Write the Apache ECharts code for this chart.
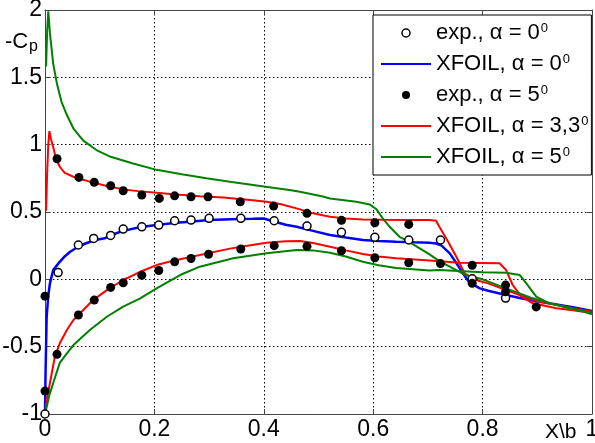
<!DOCTYPE html>
<html>
<head>
<meta charset="utf-8">
<script src="https://cdn.jsdelivr.net/npm/echarts@6/dist/echarts.min.js"></script>
<style>
html, body { margin: 0; padding: 0; background: #fff; }
#chart { width: 595px; height: 443px; }
</style>
</head>
<body>
<div id="chart"></div>
<script>
// legend names (superscript "0" added in formatter)
const names = ["exp., α = 0", "XFOIL, α = 0", "exp., α = 5", "XFOIL, α = 3,3", "XFOIL, α = 5"]

// experiment, alpha = 0 (open circles)
const exp0X = [0, 0.024, 0.061, 0.089, 0.12, 0.143, 0.177, 0.208, 0.237, 0.267, 0.3, 0.358, 0.419, 0.479, 0.542, 0.603, 0.665, 0.723, 0.781, 0.842]
const exp0Y = [-1, 0.05, 0.255, 0.304, 0.326, 0.373, 0.39, 0.403, 0.435, 0.44, 0.453, 0.453, 0.435, 0.396, 0.349, 0.312, 0.292, 0.292, 0.004, -0.139]

// experiment, alpha = 5 (filled dots)
const exp5X = [0, 0, 0.022, 0.061, 0.09, 0.12, 0.143, 0.177, 0.208, 0.237, 0.267, 0.299, 0.358, 0.419, 0.479, 0.542, 0.603, 0.665, 0.723, 0.781, 0.842, 0.898,
	0.022, 0.062, 0.09, 0.12, 0.143, 0.177, 0.209, 0.237, 0.267, 0.298, 0.357, 0.418, 0.479, 0.542, 0.603, 0.665, 0.781, 0.842]
const exp5Y = [-0.83, -0.125, -0.557, -0.265, -0.154, -0.06, -0.025, 0.03, 0.066, 0.13, 0.155, 0.186, 0.225, 0.25, 0.245, 0.212, 0.16, 0.123, 0.117, 0.105, -0.092, -0.205,
	0.895, 0.757, 0.72, 0.695, 0.658, 0.626, 0.601, 0.62, 0.613, 0.613, 0.576, 0.544, 0.49, 0.438, 0.42, 0.408, -0.03, -0.043]

// XFOIL alpha = 0
const xf0X = [0, 0.001, 0.003, 0.006, 0.009, 0.015, 0.021, 0.027, 0.036, 0.046, 0.06, 0.075, 0.09, 0.109, 0.125, 0.143, 0.175, 0.204, 0.24, 0.265, 0.3, 0.326, 0.356, 0.38, 0.4, 0.42, 0.44, 0.46, 0.49, 0.521, 0.55, 0.581, 0.61, 0.642, 0.675, 0.703, 0.715, 0.725, 0.74, 0.752, 0.764, 0.776, 0.795, 0.81, 0.843, 0.87, 0.904, 0.935, 0.965, 1.0]
const xf0Y = [-1, -0.7, -0.28, -0.12, -0.03, 0.069, 0.1, 0.13, 0.17, 0.205, 0.24, 0.268, 0.29, 0.305, 0.335, 0.36, 0.388, 0.403, 0.42, 0.428, 0.44, 0.445, 0.448, 0.45, 0.452, 0.428, 0.405, 0.39, 0.36, 0.329, 0.31, 0.292, 0.285, 0.279, 0.275, 0.272, 0.266, 0.25, 0.193, 0.12, 0.045, -0.025, -0.067, -0.085, -0.117, -0.14, -0.166, -0.186, -0.208, -0.235]

// XFOIL alpha = 3.3, upper and lower side
const xf33UpX = [0.002, 0.004, 0.006, 0.008, 0.011, 0.015, 0.02, 0.027, 0.036, 0.052, 0.07, 0.085, 0.113, 0.143, 0.17, 0.204, 0.24, 0.283, 0.326, 0.35, 0.38, 0.405, 0.43, 0.46, 0.49, 0.521, 0.55, 0.581, 0.62, 0.66, 0.703, 0.715, 0.721, 0.737, 0.752, 0.767, 0.788, 0.81, 0.843, 0.87, 0.904, 0.935, 0.965, 1.0]
const xf33UpY = [0.51, 0.8, 1.0, 1.1, 1.04, 0.98, 0.9, 0.836, 0.79, 0.762, 0.74, 0.722, 0.693, 0.668, 0.655, 0.643, 0.63, 0.617, 0.608, 0.598, 0.588, 0.576, 0.56, 0.527, 0.49, 0.465, 0.452, 0.445, 0.442, 0.44, 0.44, 0.435, 0.39, 0.279, 0.168, 0.045, -0.005, -0.03, -0.08, -0.12, -0.166, -0.19, -0.215, -0.24]
const xf33LoX = [0, 0.003, 0.009, 0.018, 0.027, 0.04, 0.052, 0.07, 0.088, 0.113, 0.143, 0.174, 0.204, 0.234, 0.283, 0.338, 0.37, 0.405, 0.44, 0.466, 0.49, 0.521, 0.55, 0.581, 0.61, 0.642, 0.703, 0.721, 0.758, 0.831, 0.843, 0.855, 0.871, 0.892, 0.935, 0.965, 1.0]
const xf33LoY = [-1, -0.9, -0.77, -0.575, -0.475, -0.376, -0.302, -0.228, -0.154, -0.08, -0.005, 0.056, 0.106, 0.138, 0.18, 0.228, 0.25, 0.272, 0.282, 0.285, 0.27, 0.242, 0.215, 0.188, 0.17, 0.156, 0.14, 0.135, 0.123, 0.119, 0.069, -0.042, -0.129, -0.178, -0.215, -0.23, -0.25]

// XFOIL alpha = 5, upper and lower side
const xf5UpX = [0.002, 0.004, 0.006, 0.009, 0.015, 0.022, 0.03, 0.04, 0.052, 0.07, 0.094, 0.12, 0.161, 0.204, 0.25, 0.295, 0.338, 0.374, 0.4, 0.447, 0.466, 0.508, 0.521, 0.569, 0.594, 0.606, 0.618, 0.63, 0.648, 0.661, 0.703, 0.721, 0.77, 0.8, 0.843, 0.892, 0.953, 1.0]
const xf5UpY = [1.58, 1.85, 1.99, 1.83, 1.6, 1.45, 1.32, 1.22, 1.12, 1.03, 0.96, 0.91, 0.86, 0.813, 0.78, 0.75, 0.725, 0.705, 0.69, 0.663, 0.65, 0.615, 0.6, 0.576, 0.555, 0.52, 0.45, 0.39, 0.316, 0.29, 0.185, 0.135, 0.03, 0.0, -0.067, -0.141, -0.21, -0.25]
const xf5LoX = [0, 0.003, 0.008, 0.015, 0.027, 0.04, 0.052, 0.082, 0.113, 0.143, 0.174, 0.204, 0.247, 0.283, 0.344, 0.405, 0.46, 0.49, 0.521, 0.55, 0.581, 0.61, 0.642, 0.703, 0.721, 0.8, 0.843, 0.868, 0.88, 0.898, 0.922, 0.965, 1.0]
const xf5LoY = [-1, -0.95, -0.86, -0.77, -0.62, -0.55, -0.488, -0.376, -0.278, -0.203, -0.141, -0.067, 0.032, 0.094, 0.156, 0.193, 0.218, 0.215, 0.198, 0.17, 0.131, 0.105, 0.085, 0.066, 0.069, 0.052, 0.049, 0.032, -0.03, -0.129, -0.178, -0.215, -0.26]

const pairs = (xs, ys) => xs.map((x, i) => [x, ys[i]])

const font = "Liberation Sans, Arial, sans-serif"
const linePath = "path://M0,0L50,0L50,2L0,2Z"

const xfoilLine = (name, color, data, width) => ({
	name: name,
	type: "line",
	data: data,
	showSymbol: false,
	symbol: "none",
	smooth: false,
	z: 2,
	itemStyle: { color: color },
	lineStyle: { color: color, width: width },
	emphasis: { disabled: true }
})

let option = {
	animation: false,
	backgroundColor: "#fff",
	grid: {
		left: 45,
		right: 3,
		top: 10,
		bottom: 29,
		containLabel: false,
		outerBoundsMode: "none"
	},
	legend: {
		orient: "vertical",
		left: 373,
		top: 15,
		padding: [7, 3, 7, 8],
		itemWidth: 50,
		itemHeight: 8,
		itemGap: 9,
		backgroundColor: "#fff",
		borderColor: "#000",
		borderWidth: 1,
		borderRadius: 0,
		data: [
			{ name: names[0], icon: "circle", itemStyle: { color: "#fff", borderColor: "#000", borderWidth: 1.5, opacity: 1 } },
			{ name: names[1], icon: linePath, itemStyle: { color: "#0000ff", borderWidth: 0 } },
			{ name: names[2], icon: "circle", itemStyle: { color: "#000", borderWidth: 0, opacity: 1 } },
			{ name: names[3], icon: linePath, itemStyle: { color: "#ff0000", borderWidth: 0 } },
			{ name: names[4], icon: linePath, itemStyle: { color: "#008000", borderWidth: 0 } }
		],
		formatter: name => "{t|" + name + "}{s|0}",
		textStyle: {
			fontFamily: font,
			color: "#000",
			fontSize: 22,
			lineHeight: 22,
			rich: {
				t: { fontFamily: font, fontSize: 22, lineHeight: 22, color: "#000" },
				s: { fontFamily: font, fontSize: 13, lineHeight: 13, verticalAlign: "top", color: "#000", padding: [0, 0, 0, 1] }
			}
		}
	},
	xAxis: [
		{
			type: "value",
			min: 0,
			max: 1,
			interval: 0.2,
			position: "bottom",
			name: "X\\b",
			nameLocation: "end",
			nameGap: -47,
			nameTextStyle: {
				fontFamily: font,
				fontSize: 21,
				color: "#000",
				align: "left",
				verticalAlign: "top",
				padding: [8, 0, 0, 0]
			},
			axisLine: { show: true, onZero: false, lineStyle: { color: "#444", width: 1 } },
			axisTick: { show: true, inside: true, length: 5, lineStyle: { color: "#444" } },
			axisLabel: { fontFamily: font, fontSize: 23, color: "#000", margin: 4 },
			splitLine: { show: true, lineStyle: { color: "#000", type: [1.5, 2.5], width: 1 } }
		},
		{
			type: "value",
			min: 0,
			max: 1,
			interval: 0.2,
			position: "top",
			axisLine: { show: true, onZero: false, lineStyle: { color: "#444", width: 1 } },
			axisTick: { show: true, inside: true, length: 5, lineStyle: { color: "#444" } },
			axisLabel: { show: false },
			splitLine: { show: false }
		}
	],
	yAxis: [
		{
			type: "value",
			min: -1,
			max: 2,
			interval: 0.5,
			position: "left",
			name: "{a|-C}{p|p}",
			nameLocation: "end",
			nameGap: -32,
			nameTextStyle: {
				align: "right",
				verticalAlign: "middle",
				padding: [0, 7, 0, 0],
				rich: {
					a: { fontFamily: font, fontSize: 22, lineHeight: 26, color: "#000" },
					p: { fontFamily: font, fontSize: 16, lineHeight: 16, verticalAlign: "bottom", color: "#000", padding: [6, 0, 0, 1] }
				}
			},
			axisLine: { show: true, onZero: false, lineStyle: { color: "#444", width: 1 } },
			axisTick: { show: true, inside: true, length: 5, lineStyle: { color: "#444" } },
			axisLabel: { fontFamily: font, fontSize: 23, color: "#000", margin: 3 },
			splitLine: { show: true, lineStyle: { color: "#000", type: [1.5, 2.5], width: 1 } }
		},
		{
			type: "value",
			min: -1,
			max: 2,
			interval: 0.5,
			position: "right",
			axisLine: { show: true, onZero: false, lineStyle: { color: "#444", width: 1 } },
			axisTick: { show: true, inside: true, length: 5, lineStyle: { color: "#444" } },
			axisLabel: { show: false },
			splitLine: { show: false }
		}
	],
	series: [
		xfoilLine(names[1], "#0000ff", pairs(xf0X, xf0Y), 2.5),
		xfoilLine(names[3], "#ff0000", pairs(xf33UpX, xf33UpY), 2),
		xfoilLine(names[3], "#ff0000", pairs(xf33LoX, xf33LoY), 2),
		xfoilLine(names[4], "#008000", pairs(xf5UpX, xf5UpY), 2),
		xfoilLine(names[4], "#008000", pairs(xf5LoX, xf5LoY), 2),
		{
			name: names[0],
			type: "scatter",
			data: pairs(exp0X, exp0Y),
			symbol: "circle",
			symbolSize: 8,
			z: 4,
			emphasis: { disabled: true },
			itemStyle: { color: "#fff", borderColor: "#000", borderWidth: 1.5, opacity: 1 }
		},
		{
			name: names[2],
			type: "scatter",
			data: pairs(exp5X, exp5Y),
			symbol: "circle",
			symbolSize: 9,
			z: 4,
			emphasis: { disabled: true },
			itemStyle: { color: "#000", opacity: 1 }
		}
	]
}

const chart = echarts.init(document.getElementById("chart"), null, { renderer: "canvas" })
chart.setOption(option)
</script>
</body>
</html>
